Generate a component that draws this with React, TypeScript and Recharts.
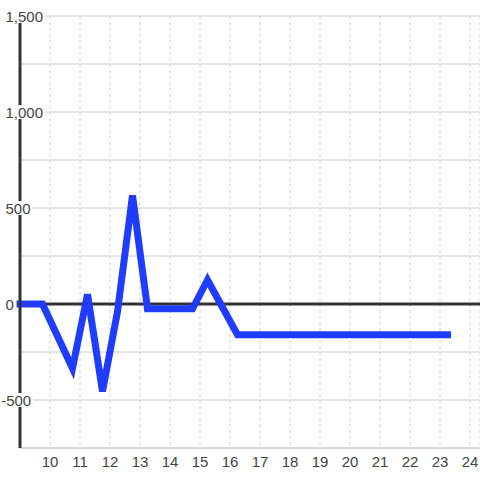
import { CartesianGrid, Line, LineChart, ReferenceLine, XAxis, YAxis } from "recharts";

const hours = [9, 9.75, 10.75, 11.25, 11.75, 12.25, 12.75, 13.25, 14.75, 15.25, 16.25, 23.25];
const values = [0, 0, -335, 50, -455, -40, 565, -25, -25, 125, -160, -160];
const xTicks = [10, 11, 12, 13, 14, 15, 16, 17, 18, 19, 20, 21, 22, 23, 24];
const yTicks = [-750, -500, -250, 0, 250, 500, 750, 1000, 1250, 1500];

const rows = hours.map((h, i) => ({ h, v: values[i] }));

const font = "'Liberation Sans', Arial, sans-serif";

function textWidth(s: string) {
  let w = 0;
  for (const c of s) w += c === "," ? 4.2 : c === "-" ? 5 : 8.34;
  return w;
}

function YTick(props: any) {
  const { y, payload } = props;
  const v = payload.value as number;
  if (v % 500 !== 0 || v < -500) return <g />;
  const label = v.toLocaleString("en-US");
  const w = textWidth(label);
  const x0 = v < 0 ? 1.2 : 5.5;
  return (
    <g>
      <rect x={x0 - 1} y={y - 7} width={w + 3} height={14} fill="#fff" />
      <text x={x0} y={y + 5.5} fill="#444" fontSize={15} fontFamily={font} textAnchor="start">
        {label}
      </text>
    </g>
  );
}

export default function App() {
  return (
    <div style={{ position: "absolute", left: 0, top: 0, width: 480, height: 480, background: "#fff" }}>
      <LineChart width={480} height={480} data={rows} margin={{ top: 16, right: 0, bottom: 0, left: 0 }}>
        <CartesianGrid vertical={false} stroke="#cccccc" />
        <CartesianGrid horizontal={false} stroke="#cccccc" strokeDasharray="3 3" />
        <XAxis
          dataKey="h"
          type="number"
          domain={[9, 24.3333]}
          ticks={xTicks}
          interval={0}
          height={32}
          axisLine={{ stroke: "#cccccc" }}
          tickLine={false}
          tick={{ fill: "#444", fontSize: 15, fontFamily: font }}
        />
        <ReferenceLine y={0} stroke="#333" strokeWidth={3} />
        <YAxis
          type="number"
          domain={[-750, 1500]}
          ticks={yTicks}
          interval={0}
          width={20}
          axisLine={{ stroke: "#333", strokeWidth: 3 }}
          tickLine={false}
          tick={YTick}
        />
        <Line
          type="linear"
          dataKey="v"
          stroke="#1f3cff"
          strokeWidth={7}
          strokeLinecap="square"
          dot={false}
          activeDot={false}
          isAnimationActive={false}
        />
      </LineChart>
    </div>
  );
}
